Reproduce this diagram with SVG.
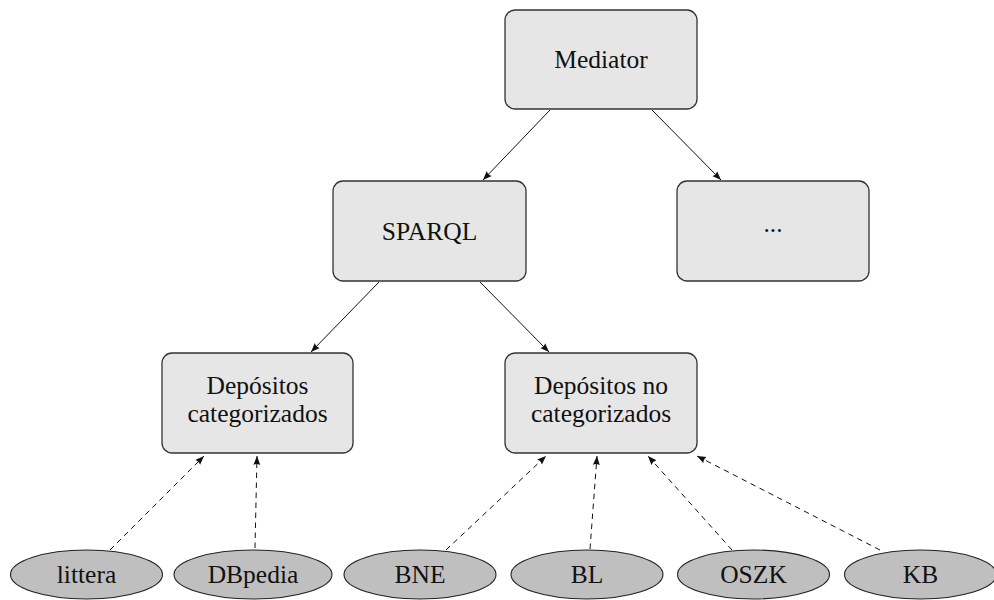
<svg xmlns="http://www.w3.org/2000/svg" width="994" height="600" viewBox="0 0 994 600">
<style>
.box{fill:#e6e6e6;stroke:#333;stroke-width:1.3}
.ell{fill:#bfbfbf;stroke:#222;stroke-width:1.1}
text{font-family:'Liberation Serif','DejaVu Serif',serif;font-size:25.5px;fill:#111;text-anchor:middle}
.e{stroke:#111;stroke-width:1;fill:none}
.d{stroke:#111;stroke-width:1;fill:none;stroke-dasharray:5.5,4.5}
</style>
<defs>
<marker id="ah" markerUnits="userSpaceOnUse" markerWidth="10" markerHeight="8" viewBox="0 0 10 8" refX="9" refY="4" orient="auto">
<path d="M0,0.5 L9,4 L0,7.5 Q2,4 0,0.5 z" fill="#111"/>
</marker>
</defs>
<g id="connectors">
<line class="e" x1="550" y1="110" x2="483" y2="180" marker-end="url(#ah)"/>
<line class="e" x1="652" y1="110" x2="721" y2="180" marker-end="url(#ah)"/>
<line class="e" x1="379" y1="282" x2="311" y2="352" marker-end="url(#ah)"/>
<line class="e" x1="480" y1="282" x2="549" y2="352" marker-end="url(#ah)"/>
<line class="d" x1="110" y1="550" x2="204" y2="456" marker-end="url(#ah)"/>
<line class="d" x1="255" y1="548" x2="257" y2="456" marker-end="url(#ah)"/>
<line class="d" x1="446" y1="550" x2="546" y2="456" marker-end="url(#ah)"/>
<line class="d" x1="590" y1="549" x2="597" y2="456" marker-end="url(#ah)"/>
<line class="d" x1="732" y1="550" x2="648" y2="456" marker-end="url(#ah)"/>
<line class="d" x1="880" y1="550" x2="697" y2="456" marker-end="url(#ah)"/>
</g>
<g id="mediator">
<rect class="box" x="505" y="10" width="192" height="99" rx="10"/>
<text x="601" y="68" font-family="Liberation Serif, serif">Mediator</text>
</g>
<g id="sparql">
<rect class="box" x="333" y="181" width="193" height="100" rx="10"/>
<text x="429.5" y="239.5">SPARQL</text>
</g>
<g id="etc">
<rect class="box" x="677" y="181" width="192" height="100" rx="10"/>
<text x="773" y="232">...</text>
</g>
<g id="dep-cat">
<rect class="box" x="162" y="353" width="191" height="100" rx="10"/>
<text x="257.5" y="394">Depósitos</text>
<text x="257.5" y="422">categorizados</text>
</g>
<g id="dep-nocat">
<rect class="box" x="505" y="353" width="192" height="100" rx="10"/>
<text x="601" y="394">Depósitos no</text>
<text x="601" y="422">categorizados</text>
</g>
<g id="littera">
<ellipse class="ell" cx="86.5" cy="574.5" rx="76" ry="24.5"/>
<text x="86.5" y="583">littera</text>
</g>
<g id="dbpedia">
<ellipse class="ell" cx="253" cy="574.5" rx="79" ry="24.5"/>
<text x="253" y="583">DBpedia</text>
</g>
<g id="bne">
<ellipse class="ell" cx="420" cy="574.5" rx="76" ry="24.5"/>
<text x="420" y="583">BNE</text>
</g>
<g id="bl">
<ellipse class="ell" cx="587" cy="574.5" rx="76" ry="24.5"/>
<text x="587" y="583">BL</text>
</g>
<g id="oszk">
<ellipse class="ell" cx="753.5" cy="574.5" rx="76" ry="24.5"/>
<text x="753.5" y="583">OSZK</text>
</g>
<g id="kb">
<ellipse class="ell" cx="920.5" cy="574.5" rx="76" ry="24.5"/>
<text x="920.5" y="583">KB</text>
</g>
</svg>
